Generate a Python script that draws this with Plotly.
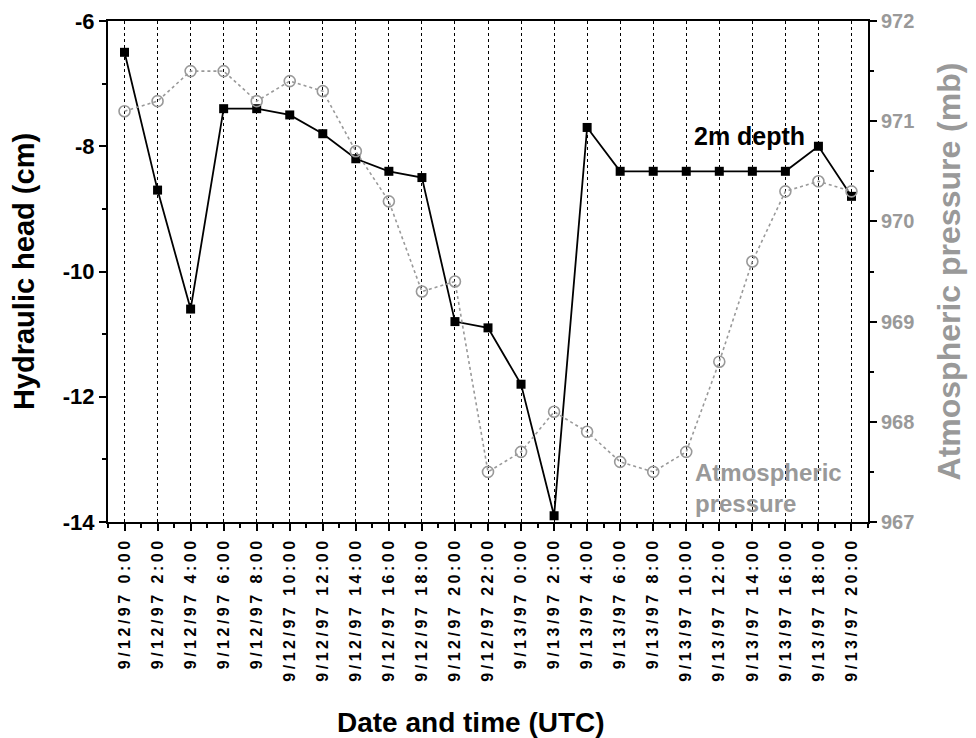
import plotly.graph_objects as go

# 2-hourly readings, 12-13 Sept 1997 (UTC)
times = ["9/12/97 0:00", "9/12/97 2:00", "9/12/97 4:00", "9/12/97 6:00",
         "9/12/97 8:00", "9/12/97 10:00", "9/12/97 12:00", "9/12/97 14:00",
         "9/12/97 16:00", "9/12/97 18:00", "9/12/97 20:00", "9/12/97 22:00",
         "9/13/97 0:00", "9/13/97 2:00", "9/13/97 4:00", "9/13/97 6:00",
         "9/13/97 8:00", "9/13/97 10:00", "9/13/97 12:00", "9/13/97 14:00",
         "9/13/97 16:00", "9/13/97 18:00", "9/13/97 20:00"]

head_2m = [-6.5, -8.7, -10.6, -7.4, -7.4, -7.5, -7.8, -8.2, -8.4, -8.5,
           -10.8, -10.9, -11.8, -13.9, -7.7, -8.4, -8.4, -8.4, -8.4, -8.4,
           -8.4, -8.0, -8.8]

pressure_mb = [971.1, 971.2, 971.5, 971.5, 971.2, 971.4, 971.3, 970.7, 970.2,
               969.3, 969.4, 967.5, 967.7, 968.1, 967.9, 967.6, 967.5, 967.7,
               968.6, 969.6, 970.3, 970.4, 970.3]

head_ticks = [-14, -12, -10, -8, -6]

GREY = "#999999"
FONT = "Liberation Sans, Arial, sans-serif"
xpos = list(range(len(times)))

fig = go.Figure()

fig.add_trace(go.Scatter(x=xpos, y=pressure_mb, yaxis="y2", mode="lines+markers",
                         name="Atmospheric pressure",
                         line=dict(color=GREY, width=1.6, dash="dot"),
                         marker=dict(symbol="circle-open", size=11, color=GREY,
                                     line=dict(width=1.6, color=GREY))))

fig.add_trace(go.Scatter(x=xpos, y=head_2m, mode="lines+markers", name="2m depth",
                         line=dict(color="black", width=1.8),
                         marker=dict(symbol="square", size=9, color="black")))

fig.update_layout(
    width=976, height=738,
    margin=dict(l=100, r=116, t=13, b=224),
    paper_bgcolor="white", plot_bgcolor="white",
    showlegend=False,
    font=dict(family=FONT, color="black"),
    xaxis=dict(
        range=[-0.5, len(times) - 0.5], automargin=False,
        tickvals=xpos, ticktext=times, tickangle=-90,
        tickfont=dict(size=16, weight="bold"),
        ticks="outside", ticklen=7, tickwidth=1.5, tickcolor="black",
        minor=dict(dtick=0.5, tick0=0, ticks="outside", ticklen=4, tickwidth=1.5,
                   tickcolor="black"),
        showgrid=True, gridcolor="black", gridwidth=1, griddash="dot",
        showline=True, linecolor="black", linewidth=2, mirror=True,
        zeroline=False,
    ),
    yaxis=dict(
        range=[-14, -6], automargin=False,
        tickvals=head_ticks, ticktext=[str(v) for v in head_ticks],
        tickfont=dict(size=22, weight="bold"),
        ticks="outside", ticklen=7, tickwidth=1.5, tickcolor="black",
        minor=dict(dtick=1, ticks="outside", ticklen=4, tickwidth=1.5,
                   tickcolor="black"),
        showgrid=False, zeroline=False,
        showline=True, linecolor="black", linewidth=2,
        title=dict(text="Hydraulic head (cm)", font=dict(size=29, weight="bold"),
                   standoff=20),
    ),
    yaxis2=dict(
        range=[967, 972], dtick=1, overlaying="y", side="right", automargin=False,
        tickfont=dict(size=20, weight="bold", color=GREY),
        ticks="outside", ticklen=7, tickwidth=1.5, tickcolor="black",
        minor=dict(dtick=0.5, ticks="outside", ticklen=4, tickwidth=1.5,
                   tickcolor="black"),
        showgrid=False, zeroline=False,
        showline=True, linecolor="black", linewidth=2,
        title=dict(text="Atmospheric pressure (mb)",
                   font=dict(size=32, weight="bold", color=GREY), standoff=24),
    ),
    annotations=[
        # x-axis title sits a little left of the plot centre in the original
        dict(x=0.4776, y=-0.435, xref="paper", yref="paper", text="Date and time (UTC)",
             showarrow=False, font=dict(size=28, weight="bold", color="black")),
        dict(x=18.9, y=-7.83, xref="x", yref="y", text="2m depth", showarrow=False,
             font=dict(size=25, weight="bold", color="black")),
        dict(x=17.2, y=-13.46, xref="x", yref="y", text="Atmospheric<br>pressure",
             showarrow=False, xanchor="left", align="left",
             font=dict(size=24, weight="bold", color=GREY)),
    ],
)

# the original tick labels along x are letter-spaced
spacing = """
var gd = document.getElementById('{plot_id}');
gd.querySelectorAll('.xtick text').forEach(function(t) { t.style.letterSpacing = '3.5px'; });
"""

fig.write_html("out.html", post_script=spacing)
